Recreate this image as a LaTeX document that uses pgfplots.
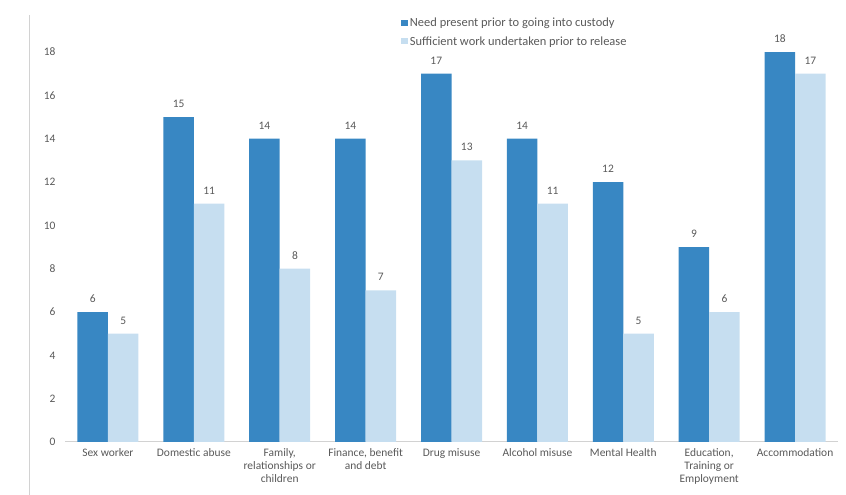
\documentclass[border=0pt]{standalone}
\usepackage{pgfplots}
\pgfplotsset{compat=1.18}
\usepackage{fontspec}
\setmainfont{Carlito}
\definecolor{darkb}{RGB}{56,135,195}
\definecolor{lightb}{RGB}{198,222,240}
\definecolor{txt}{RGB}{89,89,89}
\definecolor{axl}{RGB}{210,210,210}
\begin{document}
\begin{tikzpicture}[x=1bp,y=1bp]
\useasboundingbox (0,0) rectangle (846,495);
\draw[axl, line width=1bp] (29,0) -- (29,480);
\begin{axis}[
  at={(65bp,53bp)}, anchor=south west,
  scale only axis, width=773bp, height=433.3bp,
  xmin=-0.5, xmax=8.5, ymin=0, ymax=20,
  ybar, bar width=30.5bp,
  xtick={0,...,8},
  xticklabels={Sex worker, Domestic abuse, {Family,\\relationships or\\children}, {Finance, benefit\\and debt}, Drug misuse, Alcohol misuse, Mental Health, {Education,\\Training or\\Employment}, Accommodation},
  ytick={0,2,...,18},
  major tick length=0pt,
  axis x line*=bottom, axis y line*=left,
  x axis line style={axl, line width=1bp, -},
  y axis line style={draw=none},
  yticklabel style={font=\fontsize{11.5}{13}\selectfont, text=txt, xshift=-6bp},
  xticklabel style={font=\fontsize{11.5}{13}\selectfont, text=txt, align=center, yshift=-3bp},
  /pgf/number format/assume math mode=true,
  nodes near coords,
  every node near coord/.append style={font=\fontsize{11.5}{13}\selectfont, text=txt, yshift=6bp},
  legend style={at={(axis description cs:0.435,0.983)}, anchor=north west, draw=none, fill=none,
    font=\fontsize{12.5}{14}\selectfont, text=txt, legend cell align=left, row sep=4bp,
    inner sep=0pt},
  legend image code/.code={\fill[#1] (0bp,-3bp) rectangle (6.5bp,3.5bp);},
  clip=false,
]
\addplot[fill=darkb, draw=none, bar shift=-15.25bp] coordinates {(0,6) (1,15) (2,14) (3,14) (4,17) (5,14) (6,12) (7,9) (8,18)};
\addplot[fill=lightb, draw=none, bar shift=15.25bp] coordinates {(0,5) (1,11) (2,8) (3,7) (4,13) (5,11) (6,5) (7,6) (8,17)};
\legend{Need present prior to going into custody, Sufficient work undertaken prior to release}
\end{axis}
\end{tikzpicture}
\end{document}
